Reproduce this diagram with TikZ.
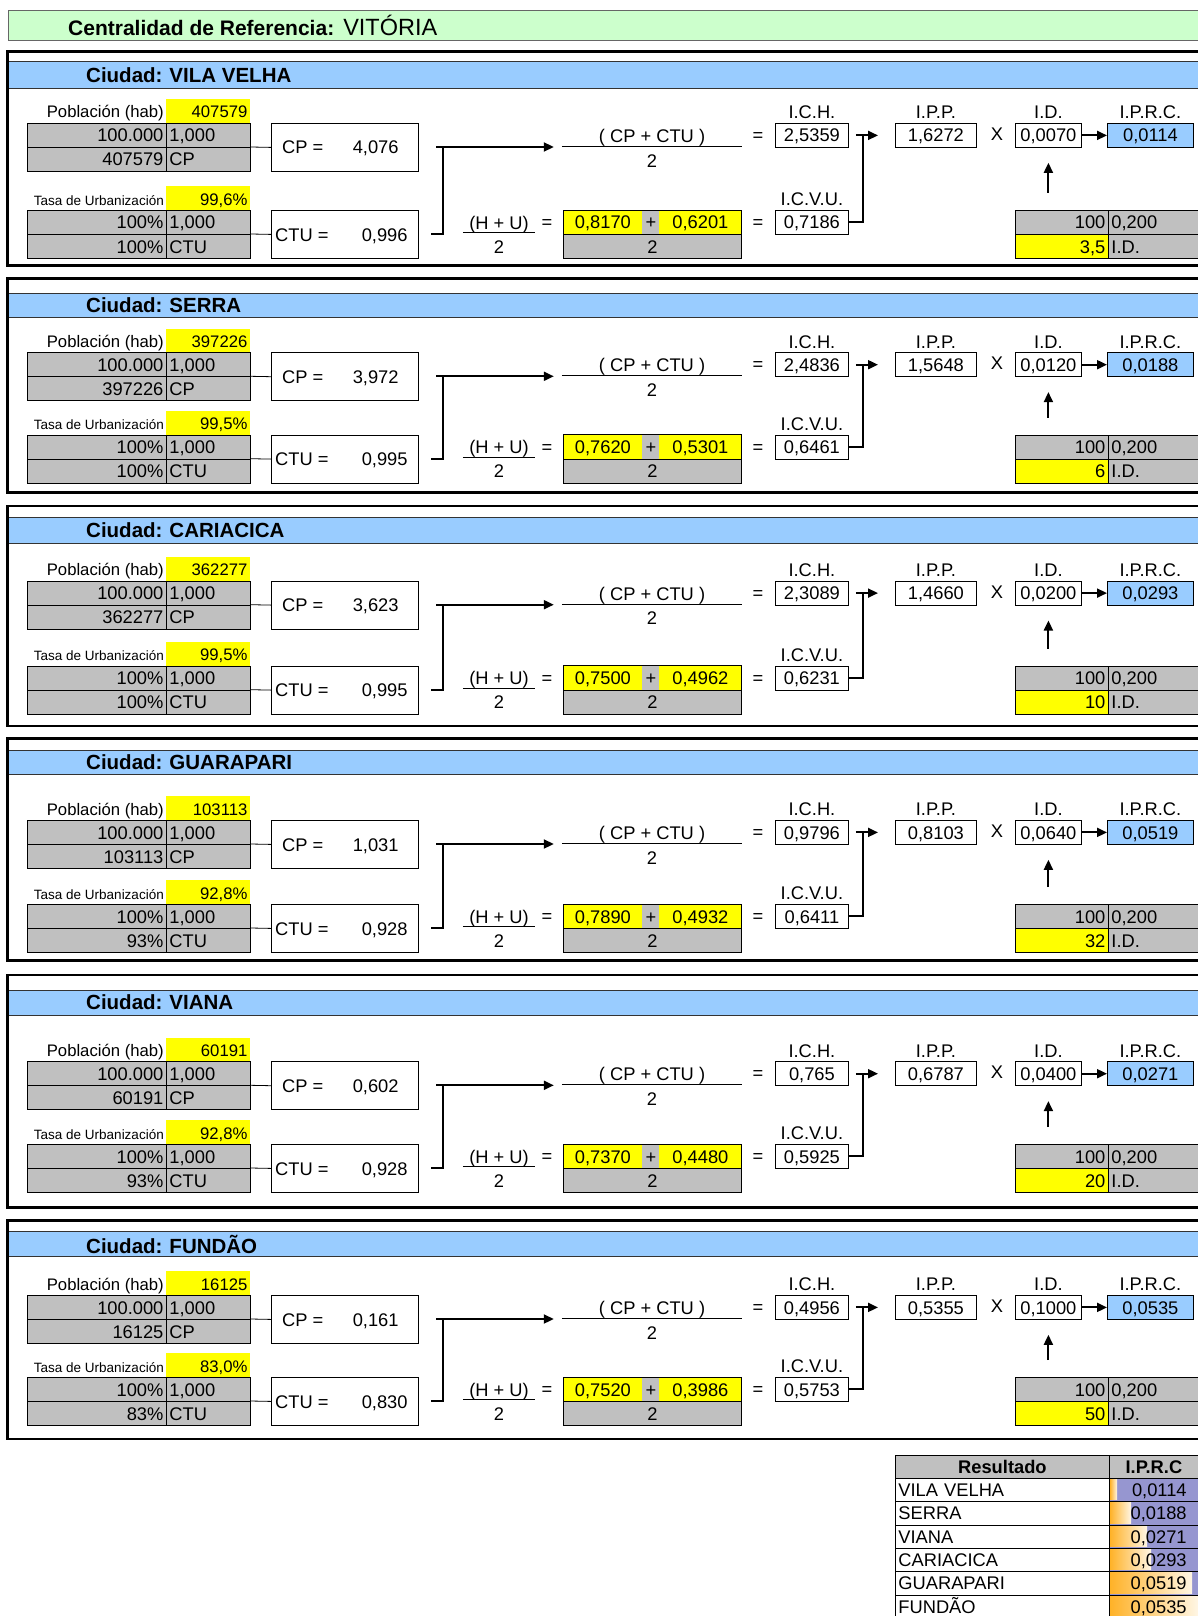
\documentclass[tikz,border=0pt]{standalone}
\usepackage{fontspec}
\setmainfont{Liberation Sans}
\usetikzlibrary{arrows.meta,positioning}
\definecolor{hdrblue}{RGB}{153,204,255}
\definecolor{titlegreen}{RGB}{204,255,204}
\definecolor{cellgray}{RGB}{192,192,192}
\definecolor{cellyellow}{RGB}{255,255,0}
\definecolor{barlilac}{RGB}{150,150,208}
\definecolor{barorange}{RGB}{255,178,40}
\definecolor{barpale}{RGB}{255,246,228}
\newcommand\fnum{\fontsize{18.3}{20}\selectfont}
\newcommand\fpob{\fontsize{16.7}{18}\selectfont}
\newcommand\ftasa{\fontsize{13.5}{15}\selectfont}
\newcommand\fcity{\fontsize{20.5}{22}\selectfont\bfseries}

\begin{document}
\begin{tikzpicture}[
    x=1pt, y=-1pt,
    cell/.style={draw=black, line width=.8pt, minimum height=24pt, inner xsep=3pt, inner ysep=0pt,
                anchor=north west, font=\fnum, text height=13.2pt, text depth=0pt},
    numr/.style={cell, text width=#1, align=right},
    numl/.style={cell, text width=#1, align=left},
    numc/.style={cell, text width=#1, align=center},
    grayfill/.style={fill=cellgray},
    yelfill/.style={fill=cellyellow},
    valbox/.style={cell, fill=white, inner sep=0pt},
    txt/.style={font=\fnum, inner sep=0pt, text height=13.2pt, text depth=0pt},
    idx/.style={txt, above=4pt of #1},
    fracnum/.style={txt, minimum height=20pt},
    arr/.style={-{Triangle[length=10pt,width=9pt]}, line width=1.9pt},
    brk/.style={line width=2.4pt},
    tee/.style={line width=2pt},
    frame/.style={line width=2.8pt},
    rule/.style={line width=.8pt}
]
\clip (0,0) rectangle (1198,1616);
\fill[white] (0,0) rectangle (1198,1616);

% title bar
\node[draw=black!60, line width=1pt, fill=titlegreen, anchor=north west, minimum width=1210pt,
      minimum height=30pt, inner sep=0pt] (titlebar) at (8,10) {};
\node[anchor=west, inner sep=0pt] (titletext) at (68,25.5)
    {{\fontsize{21}{23}\selectfont\bfseries Centralidad de Referencia:}\hspace{9pt}{\fontsize{23.5}{25}\selectfont VITÓRIA}};

% one block per city
\foreach \yt/\yha/\yhb/\yb/\yp/\yu/\nom/\pob/\cp/\tasa/\pct/\ctu/\vh/\vu/\ich/\icvu/\ipp/\id/\iprc/\nid [count=\k] in {
  51.7/61.7/88.3/265.5/99/186/VILA VELHA/407579/{4,076}/{99,6\%}/100\%/{0,996}/{0,8170}/{0,6201}/{2,5359}/{0,7186}/{1,6272}/{0,0070}/{0,0114}/{3,5},
  278.3/293.3/317.3/492.7/328.3/410.7/SERRA/397226/{3,972}/{99,5\%}/100\%/{0,995}/{0,7620}/{0,5301}/{2,4836}/{0,6461}/{1,5648}/{0,0120}/{0,0188}/6,
  506/517.7/543.3/726/556.7/641.7/CARIACICA/362277/{3,623}/{99,5\%}/100\%/{0,995}/{0,7500}/{0,4962}/{2,3089}/{0,6231}/{1,4660}/{0,0200}/{0,0293}/10,
  738.3/750/774.3/960.7/796/880/GUARAPARI/103113/{1,031}/{92,8\%}/93\%/{0,928}/{0,7890}/{0,4932}/{0,9796}/{0,6411}/{0,8103}/{0,0640}/{0,0519}/32,
  975/990/1015/1207.7/1037.3/1120/VIANA/60191/{0,602}/{92,8\%}/93\%/{0,928}/{0,7370}/{0,4480}/{0,765}/{0,5925}/{0,6787}/{0,0400}/{0,0271}/20,
  1220.7/1231.7/1256.7/1439/1271/1353/FUNDÃO/16125/{0,161}/{83,0\%}/83\%/{0,830}/{0,7520}/{0,3986}/{0,4956}/{0,5753}/{0,5355}/{0,1000}/{0,0535}/50}{
  % frame and header band
  \path[fill=hdrblue, draw=black!80, line width=1pt] (8,\yha) rectangle (1215,\yhb);
  \draw[frame] (1215,\yt) -- (7.5,\yt) -- (7.5,\yb) -- (1215,\yb);
  \node[font=\fcity, anchor=west, inner sep=0pt] (city\k) at (86,{(\yha+\yhb)/2}) {Ciudad:\hspace{7pt}\nom};

  % poblacion
  \node[txt, font=\fpob, anchor=base east] (pobl\k) at (164,\yp+19) {Población (hab)};
  \node[numr=78pt, yelfill, draw=none, font=\fpob] (poby\k) at (166,\yp) {\pob};
  \node[numr=133pt, grayfill] (pa\k) at (27,\yp+24) {100.000};
  \node[numl=78pt, grayfill] (pb\k) at (166,\yp+24) {1,000};
  \node[numr=133pt, grayfill] (pc\k) at (27,\yp+48) {\pob};
  \node[numl=78pt, grayfill] (pd\k) at (166,\yp+48) {CP};
  \node[valbox, minimum width=147pt, minimum height=48pt] (cp\k) at (271,\yp+24) {};
  \node[txt, anchor=west] (cpt\k) at ([xshift=11pt]cp\k.west) {CP =};
  \node[txt, anchor=east] (cpv\k) at ([xshift=-20pt]cp\k.east) {\cp};
  \draw[rule] (pd\k.north east) -- (cp\k.west);

  % tasa de urbanizacion
  \node[txt, font=\ftasa, anchor=base east] (tasl\k) at (164,\yu+19) {Tasa de Urbanización};
  \node[numr=78pt, yelfill, draw=none, font=\fpob] (tasy\k) at (166,\yu) {\tasa};
  \node[numr=133pt, grayfill] (ua\k) at (27,\yu+24) {100\%};
  \node[numl=78pt, grayfill] (ub\k) at (166,\yu+24) {1,000};
  \node[numr=133pt, grayfill] (uc\k) at (27,\yu+48) {\pct};
  \node[numl=78pt, grayfill] (ud\k) at (166,\yu+48) {CTU};
  \node[valbox, minimum width=147pt, minimum height=48pt] (ctu\k) at (271,\yu+24) {};
  \node[txt, anchor=west] (ctut\k) at ([xshift=4pt]ctu\k.west) {CTU =};
  \node[txt, anchor=east] (ctuv\k) at ([xshift=-11pt]ctu\k.east) {\ctu};
  \draw[rule] (ud\k.north east) -- (ctu\k.west);

  % (CP + CTU)/2
  \node[fracnum, minimum width=180pt] (cpn\k) at (652,\yp+37) {( CP + CTU )};
  \draw[rule] (cpn\k.south west) -- (cpn\k.south east);
  \node[txt, below=7.5pt of cpn\k] (cpd\k) {2};
  \coordinate (brlo\k) at (431,\yu+48);
  \coordinate (brup\k) at (443,\yp+48);
  \coordinate (brst\k) at (436,\yp+48);
  \draw[brk] (brlo\k) -| (brup\k);
  \draw[arr, shorten >=8pt] (brst\k) -- (brst\k -| cpn\k.west);

  % (H + U)/2
  \node[fracnum, minimum width=72pt] (hun\k) at (499,\yu+36.5) {(H + U)};
  \draw[rule] (hun\k.south west) -- (hun\k.south east);
  \node[txt, below=7pt of hun\k] (hud\k) {2};
  \node[txt] (equa\k) at (547,\yu+36) {=};
  \node[numc=73pt, yelfill, draw=none] (hv\k) at (563,\yu+24) {\vh};
  \node[numc=11pt, grayfill, draw=none] (plus\k) at (642,\yu+24) {+};
  \node[numc=76pt, yelfill, draw=none] (uv\k) at (659,\yu+24) {\vu};
  \node[numc=172pt, grayfill] (hd\k) at (563,\yu+48) {2};
  \draw[rule] (hv\k.north west) rectangle (uv\k.south east);

  % indices
  \node[txt] (eqb\k) at (758,\yp+36) {=};
  \node[txt] (eqc\k) at (758,\yu+36) {=};
  \node[valbox, minimum width=73pt] (ich\k) at (775,\yp+24) {\ich};
  \node[idx=ich\k] (ichl\k) {I.C.H.};
  \node[valbox, minimum width=73pt] (icvu\k) at (775,\yu+24) {\icvu};
  \node[idx=icvu\k] (icvul\k) {I.C.V.U.};
  \node[valbox, minimum width=81pt] (ipp\k) at (895,\yp+24) {\ipp};
  \node[idx=ipp\k] (ippl\k) {I.P.P.};
  \node[txt] (times\k) at (997,\yp+35) {X};
  \node[valbox, minimum width=66pt] (id\k) at (1015,\yp+24) {\id};
  \node[idx=id\k] (idl\k) {I.D.};
  \node[valbox, minimum width=86pt, fill=hdrblue] (iprc\k) at (1107,\yp+24) {\iprc};
  \node[idx=iprc\k] (iprcl\k) {I.P.R.C.};
  \coordinate (jn\k) at (863,\yp+36);
  \draw[arr, shorten <=7pt, shorten >=17pt] (ich\k) -- (ipp\k);
  \draw[tee] (icvu\k.east) -| (jn\k);
  \draw[arr] (id\k) -- (iprc\k);

  % I.D. table
  \node[numr=87pt, grayfill] (ida\k) at (1015,\yu+24) {100};
  \node[numl=84pt, grayfill] (idb\k) at (1108,\yu+24) {0,200};
  \node[numr=87pt, yelfill] (idc\k) at (1015,\yu+48) {\nid};
  \node[numl=84pt, grayfill] (idd\k) at (1108,\yu+48) {I.D.};
  \draw[arr, shorten <=17pt, shorten >=15pt] (ida\k.north -| id\k.south) -- (id\k.south);
}

% result table
\node[numc=208pt, grayfill, minimum height=23pt, font=\fnum\bfseries] (resh) at (895,1455) {Resultado};
\node[numc=83pt, grayfill, minimum height=23pt, font=\fnum\bfseries] (iprch) at (1109,1455) {I.P.R.C};
\foreach \nom/\val/\len [count=\r] in {VILA VELHA/{0,0114}/8, SERRA/{0,0188}/22, VIANA/{0,0271}/38,
    CARIACICA/{0,0293}/42, GUARAPARI/{0,0519}/83, FUNDÃO/{0,0535}/89}{
  \pgfmathsetmacro\ry{1478+(\r-1)*23.3}
  \node[numl=208pt, fill=white, minimum height=23.3pt] (rn\r) at (895,\ry) {\nom};
  \node[cell, fill=barlilac, minimum width=89pt, minimum height=23.3pt] (rv\r) at (1109,\ry) {};
  \shade[left color=barorange, right color=barpale] (1110,\ry+1.5) rectangle (1109+\len,\ry+21.8);
  \node[txt, anchor=east] (rt\r) at ([xshift=-12pt]rv\r.east) {\val};
}
\end{tikzpicture}
\end{document}
